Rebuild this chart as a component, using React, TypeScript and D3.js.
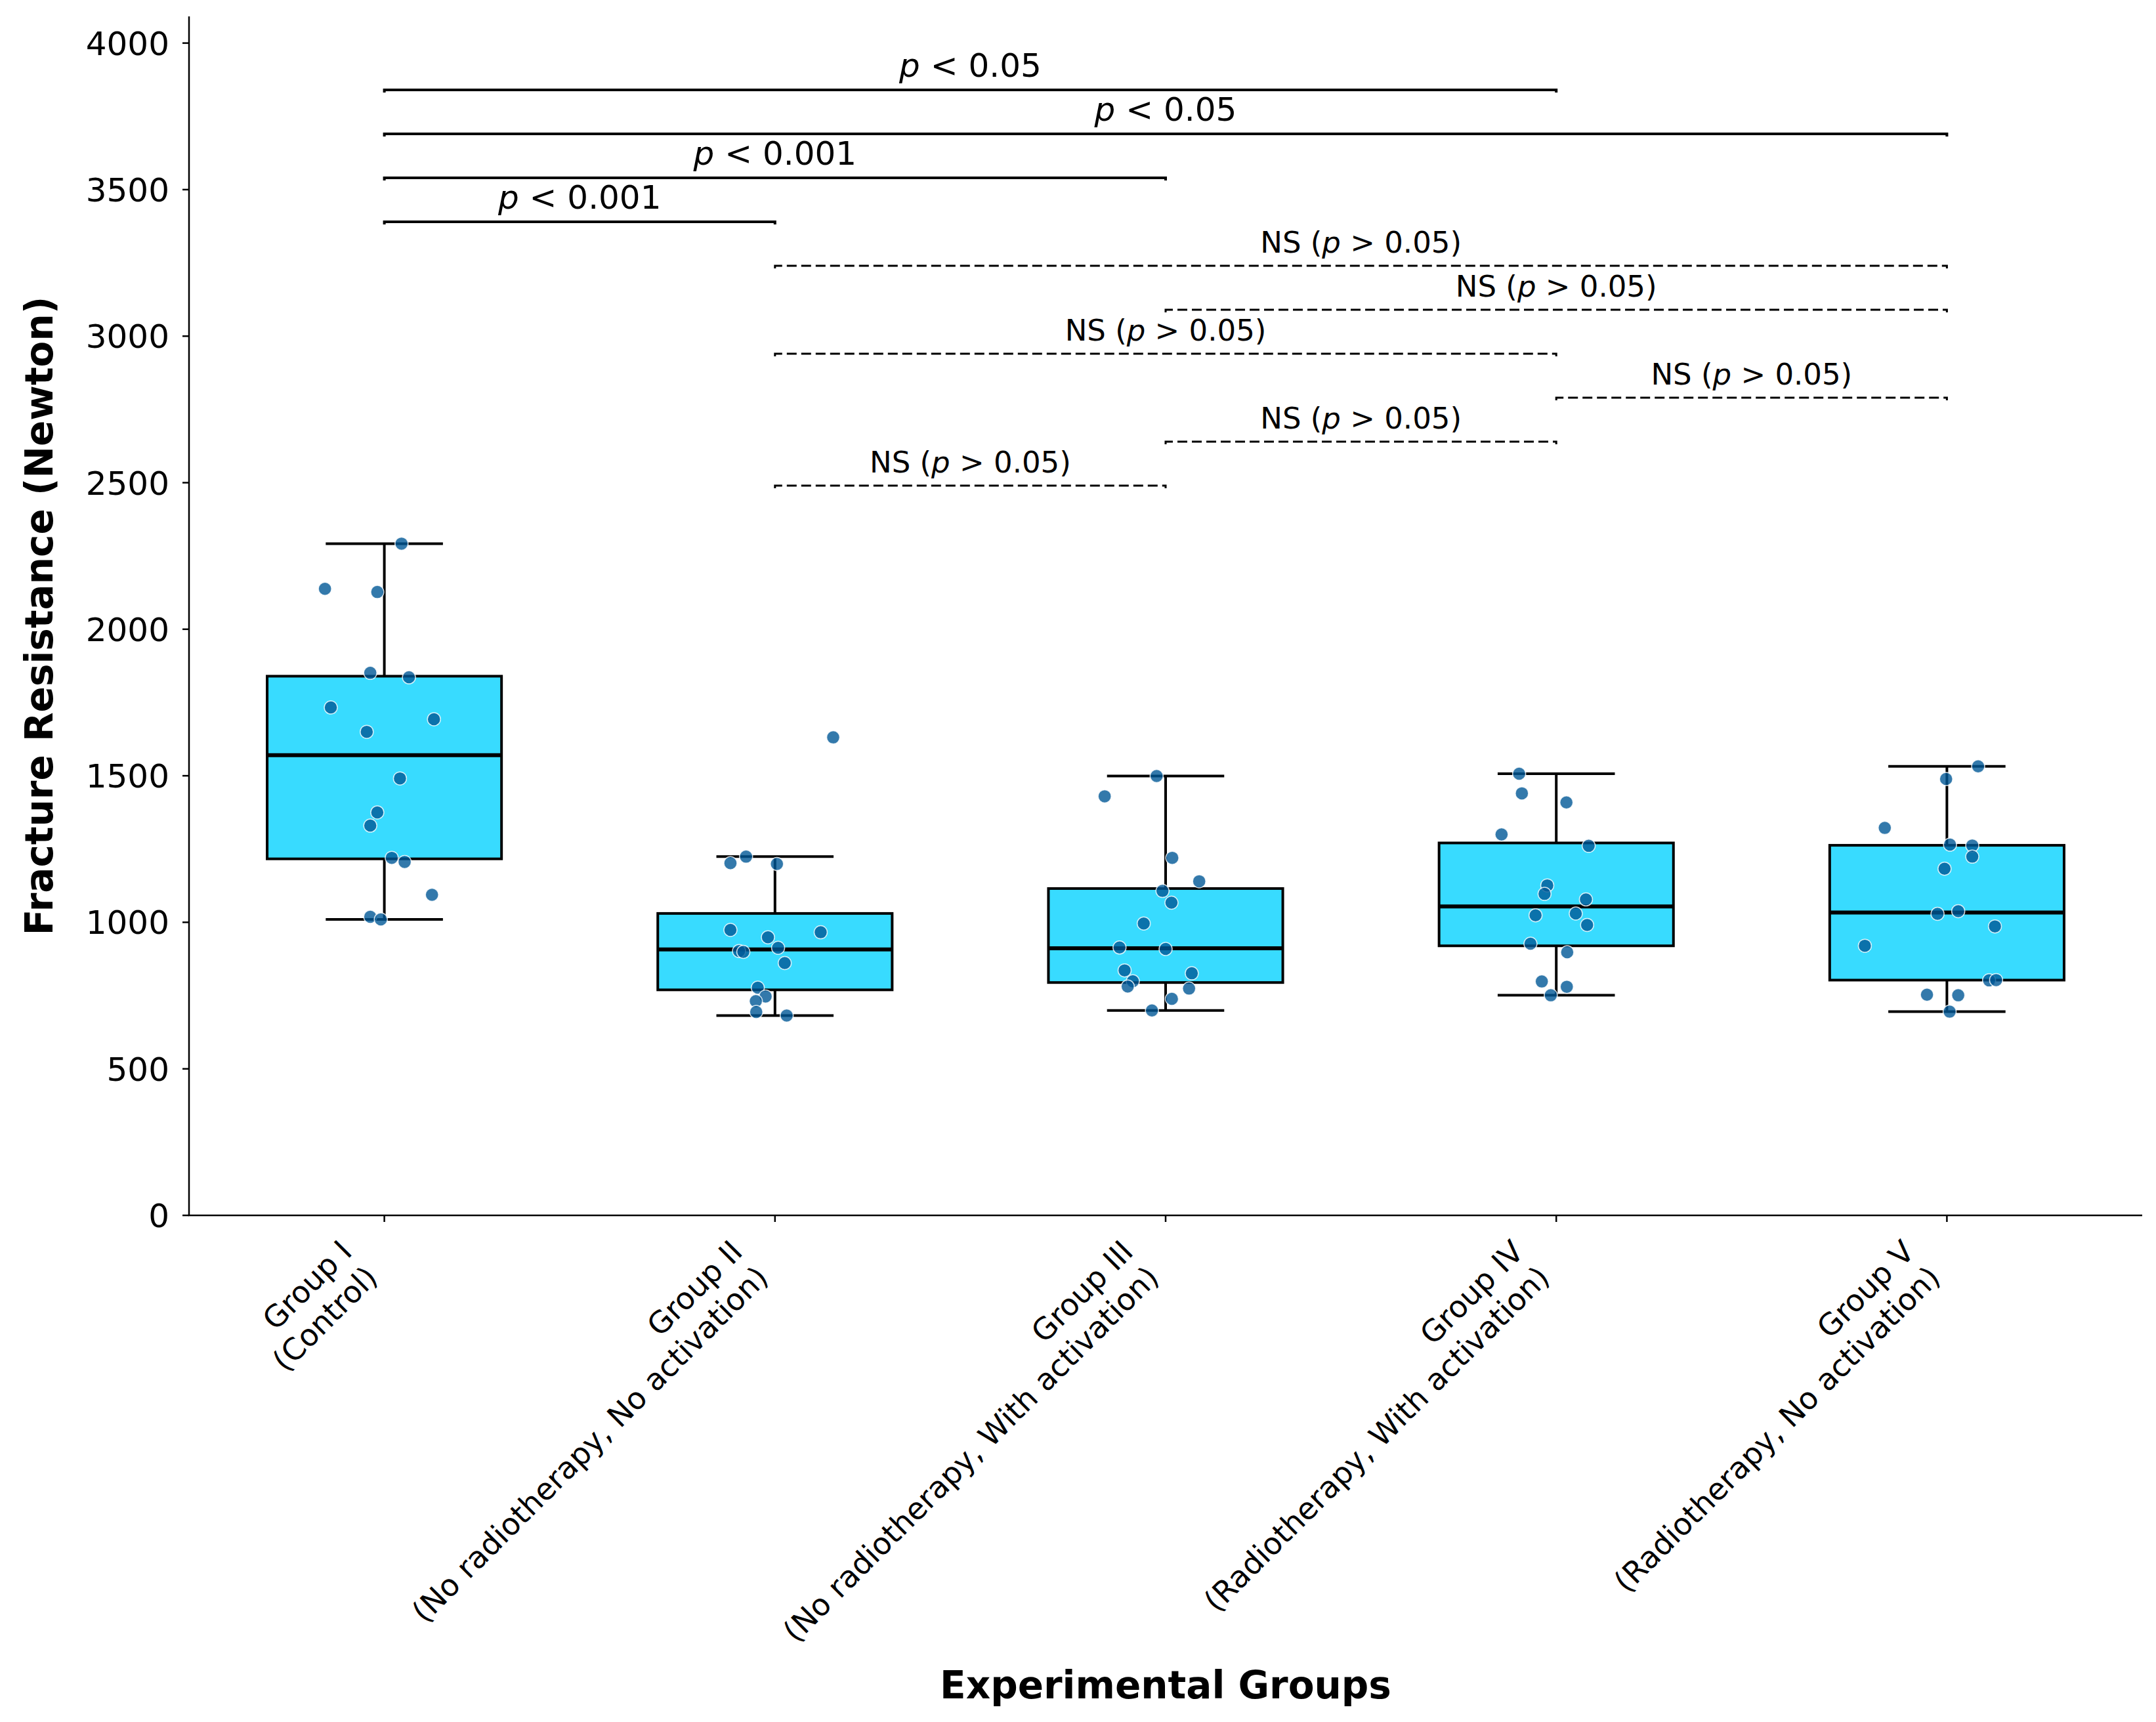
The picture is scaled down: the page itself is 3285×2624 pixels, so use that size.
import React from "react";
import * as d3 from "d3";

const groupNames = ["Group I", "Group II", "Group III", "Group IV", "Group V"];
const groupDescriptions = [
  "(Control)",
  "(No radiotherapy, No activation)",
  "(No radiotherapy, With activation)",
  "(Radiotherapy, With activation)",
  "(Radiotherapy, No activation)",
];

const group1 = [2292, 2138, 2127, 1851, 1836, 1733, 1693, 1650, 1491, 1375, 1330, 1220, 1206, 1094, 1019, 1010];
const group2 = [1631, 1224, 1202, 1199, 974, 966, 949, 913, 902, 899, 861, 777, 747, 731, 694, 682];
const group3 = [1499, 1430, 1220, 1140, 1107, 1067, 996, 914, 909, 836, 826, 799, 781, 774, 739, 699];
const group4 = [1507, 1440, 1409, 1300, 1261, 1126, 1097, 1078, 1024, 1030, 991, 927, 898, 798, 780, 751];
const group5 = [1532, 1489, 1322, 1265, 1262, 1224, 1183, 1029, 1038, 986, 920, 802, 803, 753, 751, 695];

// horizontal strip jitter (category units)
const jitter1 = [0.044, -0.152, -0.018, -0.036, 0.063, -0.137, 0.127, -0.045, 0.04, -0.018, -0.036, 0.019, 0.052, 0.122, -0.036, -0.009];
const jitter2 = [0.149, -0.074, -0.114, 0.005, -0.114, 0.117, -0.018, 0.008, -0.092, -0.081, 0.025, -0.044, -0.024, -0.049, -0.048, 0.03];
const jitter3 = [-0.023, -0.156, 0.017, 0.086, -0.008, 0.015, -0.056, -0.118, 0, -0.105, 0.067, -0.084, -0.097, 0.06, 0.016, -0.035];
const jitter4 = [-0.095, -0.088, 0.026, -0.14, 0.083, -0.023, -0.03, 0.076, -0.053, 0.05, 0.079, -0.066, 0.028, -0.037, 0.027, -0.014];
const jitter5 = [0.08, -0.002, -0.159, 0.008, 0.065, 0.065, -0.006, -0.024, 0.029, 0.123, -0.21, 0.108, 0.126, -0.051, 0.029, 0.007];

const yTicks = [0, 500, 1000, 1500, 2000, 2500, 3000, 3500, 4000];

const sigPairs = [[0, 3], [0, 4], [0, 2], [0, 1], [1, 4], [2, 4], [1, 3], [3, 4], [2, 3], [1, 2]];
const sigHeights = [3840, 3690, 3540, 3390, 3240, 3090, 2940, 2790, 2640, 2490];
const sigLabels = ["p < 0.05", "p < 0.05", "p < 0.001", "p < 0.001", "NS (p > 0.05)", "NS (p > 0.05)", "NS (p > 0.05)", "NS (p > 0.05)", "NS (p > 0.05)", "NS (p > 0.05)"];
const sigSignificant = [true, true, true, true, false, false, false, false, false, false];

const W = 3285;
const H = 2624;
const FONT = "DejaVu Sans, sans-serif";

function boxStats(vals: number[]) {
  const s = [...vals].sort((a, b) => a - b);
  const q1 = d3.quantile(s, 0.25) as number;
  const med = d3.quantile(s, 0.5) as number;
  const q3 = d3.quantile(s, 0.75) as number;
  const iqr = q3 - q1;
  const lo = d3.min(s.filter((v) => v >= q1 - 1.5 * iqr)) as number;
  const hi = d3.max(s.filter((v) => v <= q3 + 1.5 * iqr)) as number;
  return { q1, med, q3, lo, hi };
}

function SigLabel({ text, x, y, size }: { text: string; x: number; y: number; size: number }) {
  const idx = text.indexOf("p");
  const before = text.slice(0, idx);
  const after = text.slice(idx + 1);
  return (
    <text x={x} y={y} textAnchor="middle" fontFamily={FONT} fontSize={size} fill="#000">
      {before}
      <tspan fontStyle="italic">p</tspan>
      {after}
    </text>
  );
}

export default function App() {
  const data = [group1, group2, group3, group4, group5];
  const jit = [jitter1, jitter2, jitter3, jitter4, jitter5];

  const left = 288;
  const right = 3264;
  const top = 25;
  const bottom = 1852;

  const x = d3.scaleBand<string>().domain(groupNames).range([left, right]).padding(0);
  const bw = x.bandwidth();
  const cx = (i: number) => (x(groupNames[i]) as number) + bw / 2;
  const y = d3.scaleLinear().domain([0, 4091]).range([bottom, top]);

  const boxW = 0.6 * bw;
  const capW = 0.3 * bw;
  const tickFont = 50;
  const xtFont = 46;
  const lineH = xtFont * 1.2;
  const blockH = lineH + xtFont * 1.17;

  return (
    <svg width={W} height={H} style={{ position: "absolute", left: 0, top: 0, background: "#fff" }}>
      <rect x={0} y={0} width={W} height={H} fill="#fff" />
      {/* boxes */}
      {data.map((vals, i) => {
        const st = boxStats(vals);
        const c = cx(i);
        return (
          <g key={"box" + i}>
            <line x1={c} x2={c} y1={y(st.q3)} y2={y(st.hi)} stroke="#000" strokeWidth={4} />
            <line x1={c} x2={c} y1={y(st.q1)} y2={y(st.lo)} stroke="#000" strokeWidth={4} />
            <line x1={c - capW / 2} x2={c + capW / 2} y1={y(st.hi)} y2={y(st.hi)} stroke="#000" strokeWidth={4} />
            <line x1={c - capW / 2} x2={c + capW / 2} y1={y(st.lo)} y2={y(st.lo)} stroke="#000" strokeWidth={4} />
            <rect
              x={c - boxW / 2}
              y={y(st.q3)}
              width={boxW}
              height={y(st.q1) - y(st.q3)}
              fill="#38dbff"
              stroke="#000"
              strokeWidth={4}
            />
            <line x1={c - boxW / 2} x2={c + boxW / 2} y1={y(st.med)} y2={y(st.med)} stroke="#000" strokeWidth={6} />
          </g>
        );
      })}
      {/* points */}
      {data.map((vals, i) =>
        vals.map((v, j) => (
          <circle
            key={"p" + i + "-" + j}
            cx={cx(i) + jit[i][j] * bw}
            cy={y(v)}
            r={10}
            fill="rgb(0,88,150)"
            fillOpacity={0.8}
            stroke="#fff"
            strokeOpacity={0.8}
            strokeWidth={1.5}
          />
        ))
      )}
      {/* significance bars */}
      {sigPairs.map((p, k) => {
        const x1 = cx(p[0]);
        const x2 = cx(p[1]);
        const yy = y(sigHeights[k]);
        const sig = sigSignificant[k];
        return (
          <g key={"sig" + k}>
            <path
              d={`M${x1},${yy + 4}L${x1},${yy}L${x2},${yy}L${x2},${yy + 4}`}
              fill="none"
              stroke="#000"
              strokeWidth={sig ? 4 : 3}
              strokeDasharray={sig ? undefined : "15,7"}
            />
            <SigLabel text={sigLabels[k]} x={(x1 + x2) / 2} y={yy - 20} size={sig ? 50 : 45} />
          </g>
        );
      })}
      {/* axes */}
      <line x1={left} x2={left} y1={top} y2={bottom} stroke="#000" strokeWidth={2.5} />
      <line x1={left - 1.25} x2={right} y1={bottom} y2={bottom} stroke="#000" strokeWidth={2.5} />
      {yTicks.map((t) => (
        <g key={"yt" + t}>
          <line x1={left - 10} x2={left} y1={y(t)} y2={y(t)} stroke="#000" strokeWidth={2.5} />
          <text x={left - 30} y={y(t)} dy="0.36em" textAnchor="end" fontFamily={FONT} fontSize={tickFont} fill="#000">
            {t}
          </text>
        </g>
      ))}
      {groupNames.map((g, i) => {
        const c = cx(i);
        return (
          <g key={"xt" + i}>
            <line x1={c} x2={c} y1={bottom} y2={bottom + 10} stroke="#000" strokeWidth={2.5} />
            <g transform={`translate(${c - blockH / Math.SQRT2},${bottom + 28}) rotate(-45)`}>
              <text x={0} y={xtFont * 0.93} textAnchor="end" fontFamily={FONT} fontSize={xtFont} fill="#000">
                {g}
              </text>
              <text x={0} y={xtFont * 0.93 + lineH} textAnchor="end" fontFamily={FONT} fontSize={xtFont} fill="#000">
                {groupDescriptions[i]}
              </text>
            </g>
          </g>
        );
      })}
      <text
        transform={`translate(80,${(top + bottom) / 2}) rotate(-90)`}
        textAnchor="middle"
        fontFamily={FONT}
        fontWeight="bold"
        fontSize={58}
        fill="#000"
      >
        Fracture Resistance (Newton)
      </text>
      <text x={(left + right) / 2} y={2588} textAnchor="middle" fontFamily={FONT} fontWeight="bold" fontSize={58} fill="#000">
        Experimental Groups
      </text>
    </svg>
  );
}
